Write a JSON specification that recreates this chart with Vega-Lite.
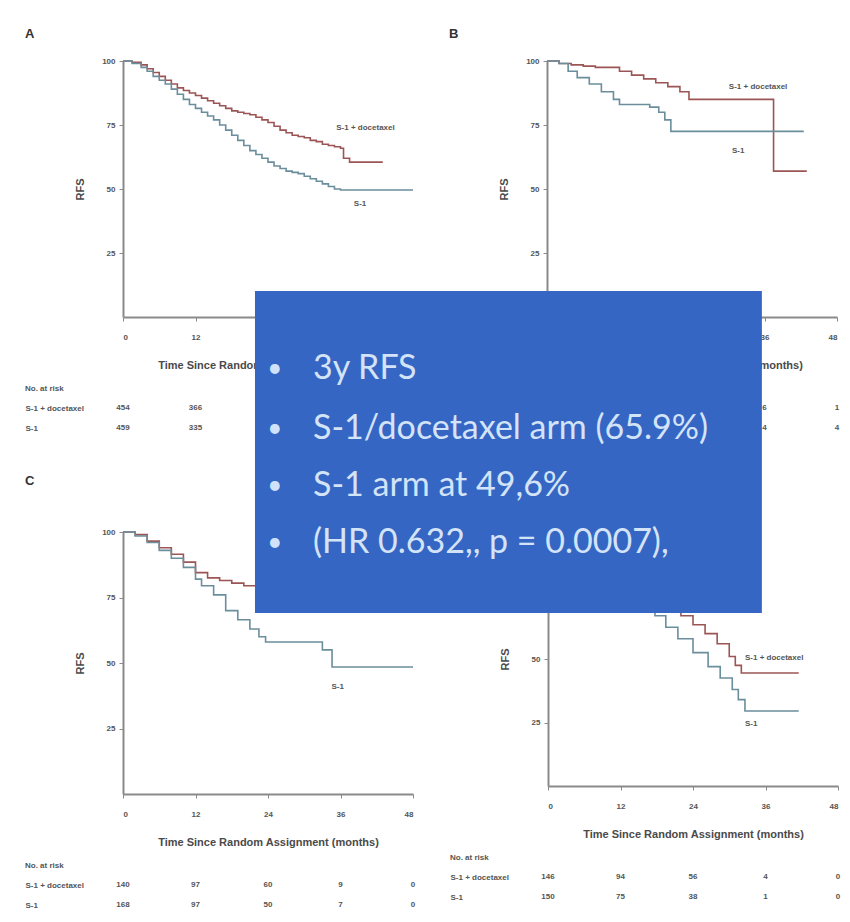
{
  "$schema": "https://vega.github.io/schema/vega-lite/v6.json",
  "padding": {"left": 25, "top": 28, "right": 5, "bottom": 5},
  "background": "white",
  "config": {
    "view": {"stroke": null},
    "font": "Liberation Sans",
    "axis": {
      "grid": false,
      "labelFont": "Liberation Sans",
      "labelFontSize": 8,
      "labelFontWeight": "bold",
      "labelColor": "#555555",
      "titleFont": "Liberation Sans",
      "titleFontSize": 11,
      "titleFontWeight": "bold",
      "titleColor": "#4a4a4a",
      "domainColor": "#8a8a8a",
      "domainWidth": 2,
      "tickColor": "#8a8a8a"
    }
  },
  "datasets": {
    "curves": [
      {"panel": "A", "arm": "S-1 + docetaxel", "month": 0, "rfs": 100},
      {"panel": "A", "arm": "S-1 + docetaxel", "month": 1.5, "rfs": 99.5},
      {"panel": "A", "arm": "S-1 + docetaxel", "month": 3, "rfs": 98.5},
      {"panel": "A", "arm": "S-1 + docetaxel", "month": 4, "rfs": 97},
      {"panel": "A", "arm": "S-1 + docetaxel", "month": 5, "rfs": 95.5},
      {"panel": "A", "arm": "S-1 + docetaxel", "month": 6, "rfs": 94},
      {"panel": "A", "arm": "S-1 + docetaxel", "month": 7, "rfs": 92.5},
      {"panel": "A", "arm": "S-1 + docetaxel", "month": 8, "rfs": 91},
      {"panel": "A", "arm": "S-1 + docetaxel", "month": 9, "rfs": 89.5},
      {"panel": "A", "arm": "S-1 + docetaxel", "month": 10, "rfs": 88.5},
      {"panel": "A", "arm": "S-1 + docetaxel", "month": 11, "rfs": 87.5},
      {"panel": "A", "arm": "S-1 + docetaxel", "month": 12, "rfs": 86.5},
      {"panel": "A", "arm": "S-1 + docetaxel", "month": 13, "rfs": 85.5},
      {"panel": "A", "arm": "S-1 + docetaxel", "month": 14, "rfs": 84.5},
      {"panel": "A", "arm": "S-1 + docetaxel", "month": 15, "rfs": 83.5},
      {"panel": "A", "arm": "S-1 + docetaxel", "month": 16, "rfs": 82.5},
      {"panel": "A", "arm": "S-1 + docetaxel", "month": 17, "rfs": 81.5},
      {"panel": "A", "arm": "S-1 + docetaxel", "month": 18, "rfs": 80.5},
      {"panel": "A", "arm": "S-1 + docetaxel", "month": 19, "rfs": 80},
      {"panel": "A", "arm": "S-1 + docetaxel", "month": 20, "rfs": 79.5},
      {"panel": "A", "arm": "S-1 + docetaxel", "month": 21, "rfs": 79},
      {"panel": "A", "arm": "S-1 + docetaxel", "month": 22, "rfs": 78},
      {"panel": "A", "arm": "S-1 + docetaxel", "month": 23, "rfs": 77},
      {"panel": "A", "arm": "S-1 + docetaxel", "month": 24, "rfs": 76},
      {"panel": "A", "arm": "S-1 + docetaxel", "month": 25, "rfs": 74.5},
      {"panel": "A", "arm": "S-1 + docetaxel", "month": 26, "rfs": 73},
      {"panel": "A", "arm": "S-1 + docetaxel", "month": 27, "rfs": 72},
      {"panel": "A", "arm": "S-1 + docetaxel", "month": 28, "rfs": 71},
      {"panel": "A", "arm": "S-1 + docetaxel", "month": 29, "rfs": 70.5},
      {"panel": "A", "arm": "S-1 + docetaxel", "month": 30, "rfs": 70},
      {"panel": "A", "arm": "S-1 + docetaxel", "month": 31, "rfs": 69},
      {"panel": "A", "arm": "S-1 + docetaxel", "month": 32, "rfs": 68.5},
      {"panel": "A", "arm": "S-1 + docetaxel", "month": 33, "rfs": 67.5},
      {"panel": "A", "arm": "S-1 + docetaxel", "month": 34, "rfs": 67},
      {"panel": "A", "arm": "S-1 + docetaxel", "month": 35, "rfs": 66.5},
      {"panel": "A", "arm": "S-1 + docetaxel", "month": 36, "rfs": 65.9},
      {"panel": "A", "arm": "S-1 + docetaxel", "month": 36.5, "rfs": 62},
      {"panel": "A", "arm": "S-1 + docetaxel", "month": 37.5, "rfs": 60.5},
      {"panel": "A", "arm": "S-1 + docetaxel", "month": 43, "rfs": 60.5},
      {"panel": "A", "arm": "S-1", "month": 0, "rfs": 100},
      {"panel": "A", "arm": "S-1", "month": 1.5, "rfs": 99},
      {"panel": "A", "arm": "S-1", "month": 3, "rfs": 97.5},
      {"panel": "A", "arm": "S-1", "month": 4, "rfs": 96},
      {"panel": "A", "arm": "S-1", "month": 5, "rfs": 94},
      {"panel": "A", "arm": "S-1", "month": 6, "rfs": 92.5},
      {"panel": "A", "arm": "S-1", "month": 7, "rfs": 91},
      {"panel": "A", "arm": "S-1", "month": 8, "rfs": 89},
      {"panel": "A", "arm": "S-1", "month": 9, "rfs": 87},
      {"panel": "A", "arm": "S-1", "month": 10, "rfs": 85},
      {"panel": "A", "arm": "S-1", "month": 11, "rfs": 83},
      {"panel": "A", "arm": "S-1", "month": 12, "rfs": 81.5},
      {"panel": "A", "arm": "S-1", "month": 13, "rfs": 80},
      {"panel": "A", "arm": "S-1", "month": 14, "rfs": 78.5},
      {"panel": "A", "arm": "S-1", "month": 15, "rfs": 77},
      {"panel": "A", "arm": "S-1", "month": 16, "rfs": 75},
      {"panel": "A", "arm": "S-1", "month": 17, "rfs": 73},
      {"panel": "A", "arm": "S-1", "month": 18, "rfs": 71},
      {"panel": "A", "arm": "S-1", "month": 19, "rfs": 69},
      {"panel": "A", "arm": "S-1", "month": 20, "rfs": 67},
      {"panel": "A", "arm": "S-1", "month": 21, "rfs": 65},
      {"panel": "A", "arm": "S-1", "month": 22, "rfs": 63.5},
      {"panel": "A", "arm": "S-1", "month": 23, "rfs": 62},
      {"panel": "A", "arm": "S-1", "month": 24, "rfs": 60.5},
      {"panel": "A", "arm": "S-1", "month": 25, "rfs": 59},
      {"panel": "A", "arm": "S-1", "month": 26, "rfs": 58},
      {"panel": "A", "arm": "S-1", "month": 27, "rfs": 57},
      {"panel": "A", "arm": "S-1", "month": 28, "rfs": 56.5},
      {"panel": "A", "arm": "S-1", "month": 29, "rfs": 56},
      {"panel": "A", "arm": "S-1", "month": 30, "rfs": 55},
      {"panel": "A", "arm": "S-1", "month": 31, "rfs": 54},
      {"panel": "A", "arm": "S-1", "month": 32, "rfs": 53},
      {"panel": "A", "arm": "S-1", "month": 33, "rfs": 52},
      {"panel": "A", "arm": "S-1", "month": 34, "rfs": 51},
      {"panel": "A", "arm": "S-1", "month": 35, "rfs": 50},
      {"panel": "A", "arm": "S-1", "month": 36, "rfs": 49.6},
      {"panel": "A", "arm": "S-1", "month": 48, "rfs": 49.6},
      {"panel": "B", "arm": "S-1 + docetaxel", "month": 0, "rfs": 100},
      {"panel": "B", "arm": "S-1 + docetaxel", "month": 2, "rfs": 99},
      {"panel": "B", "arm": "S-1 + docetaxel", "month": 4, "rfs": 98.5},
      {"panel": "B", "arm": "S-1 + docetaxel", "month": 6, "rfs": 98},
      {"panel": "B", "arm": "S-1 + docetaxel", "month": 8, "rfs": 97.5},
      {"panel": "B", "arm": "S-1 + docetaxel", "month": 10, "rfs": 97.5},
      {"panel": "B", "arm": "S-1 + docetaxel", "month": 12, "rfs": 96},
      {"panel": "B", "arm": "S-1 + docetaxel", "month": 14, "rfs": 94.5},
      {"panel": "B", "arm": "S-1 + docetaxel", "month": 16, "rfs": 93},
      {"panel": "B", "arm": "S-1 + docetaxel", "month": 18, "rfs": 91.5},
      {"panel": "B", "arm": "S-1 + docetaxel", "month": 20, "rfs": 90},
      {"panel": "B", "arm": "S-1 + docetaxel", "month": 22, "rfs": 88},
      {"panel": "B", "arm": "S-1 + docetaxel", "month": 23.5, "rfs": 85},
      {"panel": "B", "arm": "S-1 + docetaxel", "month": 37.5, "rfs": 57},
      {"panel": "B", "arm": "S-1 + docetaxel", "month": 43, "rfs": 57},
      {"panel": "B", "arm": "S-1", "month": 0, "rfs": 100},
      {"panel": "B", "arm": "S-1", "month": 2, "rfs": 99},
      {"panel": "B", "arm": "S-1", "month": 3.5, "rfs": 96},
      {"panel": "B", "arm": "S-1", "month": 5, "rfs": 93.5},
      {"panel": "B", "arm": "S-1", "month": 7, "rfs": 91},
      {"panel": "B", "arm": "S-1", "month": 9, "rfs": 88},
      {"panel": "B", "arm": "S-1", "month": 11, "rfs": 85},
      {"panel": "B", "arm": "S-1", "month": 12, "rfs": 83},
      {"panel": "B", "arm": "S-1", "month": 17, "rfs": 82},
      {"panel": "B", "arm": "S-1", "month": 18.5, "rfs": 80},
      {"panel": "B", "arm": "S-1", "month": 19.5, "rfs": 77},
      {"panel": "B", "arm": "S-1", "month": 20.5, "rfs": 72.5},
      {"panel": "B", "arm": "S-1", "month": 42.5, "rfs": 72.5},
      {"panel": "C", "arm": "S-1 + docetaxel", "month": 0, "rfs": 100},
      {"panel": "C", "arm": "S-1 + docetaxel", "month": 2, "rfs": 99},
      {"panel": "C", "arm": "S-1 + docetaxel", "month": 4, "rfs": 96.5},
      {"panel": "C", "arm": "S-1 + docetaxel", "month": 6, "rfs": 94},
      {"panel": "C", "arm": "S-1 + docetaxel", "month": 8, "rfs": 91.5},
      {"panel": "C", "arm": "S-1 + docetaxel", "month": 10, "rfs": 88.5},
      {"panel": "C", "arm": "S-1 + docetaxel", "month": 12, "rfs": 84.5},
      {"panel": "C", "arm": "S-1 + docetaxel", "month": 14, "rfs": 82.5},
      {"panel": "C", "arm": "S-1 + docetaxel", "month": 16, "rfs": 81.5},
      {"panel": "C", "arm": "S-1 + docetaxel", "month": 18, "rfs": 80.5},
      {"panel": "C", "arm": "S-1 + docetaxel", "month": 20, "rfs": 79.5},
      {"panel": "C", "arm": "S-1 + docetaxel", "month": 22, "rfs": 78.5},
      {"panel": "C", "arm": "S-1 + docetaxel", "month": 26, "rfs": 76.5},
      {"panel": "C", "arm": "S-1 + docetaxel", "month": 30, "rfs": 74},
      {"panel": "C", "arm": "S-1 + docetaxel", "month": 34, "rfs": 72},
      {"panel": "C", "arm": "S-1 + docetaxel", "month": 36, "rfs": 71.3},
      {"panel": "C", "arm": "S-1 + docetaxel", "month": 44, "rfs": 71.3},
      {"panel": "C", "arm": "S-1", "month": 0, "rfs": 100},
      {"panel": "C", "arm": "S-1", "month": 2, "rfs": 98.5},
      {"panel": "C", "arm": "S-1", "month": 4, "rfs": 96},
      {"panel": "C", "arm": "S-1", "month": 6, "rfs": 93},
      {"panel": "C", "arm": "S-1", "month": 8, "rfs": 90},
      {"panel": "C", "arm": "S-1", "month": 10, "rfs": 86.5},
      {"panel": "C", "arm": "S-1", "month": 12, "rfs": 82},
      {"panel": "C", "arm": "S-1", "month": 13, "rfs": 79.5},
      {"panel": "C", "arm": "S-1", "month": 15, "rfs": 76},
      {"panel": "C", "arm": "S-1", "month": 17, "rfs": 70},
      {"panel": "C", "arm": "S-1", "month": 19, "rfs": 66.5},
      {"panel": "C", "arm": "S-1", "month": 21, "rfs": 63},
      {"panel": "C", "arm": "S-1", "month": 22.5, "rfs": 60},
      {"panel": "C", "arm": "S-1", "month": 23.6, "rfs": 58},
      {"panel": "C", "arm": "S-1", "month": 33, "rfs": 55},
      {"panel": "C", "arm": "S-1", "month": 34.6, "rfs": 48.5},
      {"panel": "C", "arm": "S-1", "month": 48, "rfs": 48.5},
      {"panel": "D", "arm": "S-1 + docetaxel", "month": 0, "rfs": 100},
      {"panel": "D", "arm": "S-1 + docetaxel", "month": 4, "rfs": 96},
      {"panel": "D", "arm": "S-1 + docetaxel", "month": 8, "rfs": 90},
      {"panel": "D", "arm": "S-1 + docetaxel", "month": 12, "rfs": 84},
      {"panel": "D", "arm": "S-1 + docetaxel", "month": 16, "rfs": 77},
      {"panel": "D", "arm": "S-1 + docetaxel", "month": 20, "rfs": 70.5},
      {"panel": "D", "arm": "S-1 + docetaxel", "month": 22, "rfs": 67},
      {"panel": "D", "arm": "S-1 + docetaxel", "month": 24, "rfs": 63.5},
      {"panel": "D", "arm": "S-1 + docetaxel", "month": 26, "rfs": 60},
      {"panel": "D", "arm": "S-1 + docetaxel", "month": 28, "rfs": 56},
      {"panel": "D", "arm": "S-1 + docetaxel", "month": 30, "rfs": 51},
      {"panel": "D", "arm": "S-1 + docetaxel", "month": 31, "rfs": 47.5},
      {"panel": "D", "arm": "S-1 + docetaxel", "month": 32, "rfs": 44.5},
      {"panel": "D", "arm": "S-1 + docetaxel", "month": 41.5, "rfs": 44.5},
      {"panel": "D", "arm": "S-1", "month": 0, "rfs": 100},
      {"panel": "D", "arm": "S-1", "month": 4, "rfs": 95},
      {"panel": "D", "arm": "S-1", "month": 8, "rfs": 87},
      {"panel": "D", "arm": "S-1", "month": 12, "rfs": 79},
      {"panel": "D", "arm": "S-1", "month": 15, "rfs": 72.5},
      {"panel": "D", "arm": "S-1", "month": 17.7, "rfs": 67},
      {"panel": "D", "arm": "S-1", "month": 19.5, "rfs": 62.5},
      {"panel": "D", "arm": "S-1", "month": 21.5, "rfs": 58},
      {"panel": "D", "arm": "S-1", "month": 24, "rfs": 52.5},
      {"panel": "D", "arm": "S-1", "month": 26.5, "rfs": 47},
      {"panel": "D", "arm": "S-1", "month": 28.5, "rfs": 42.5},
      {"panel": "D", "arm": "S-1", "month": 30.5, "rfs": 38},
      {"panel": "D", "arm": "S-1", "month": 31.5, "rfs": 34},
      {"panel": "D", "arm": "S-1", "month": 32.6, "rfs": 29.5},
      {"panel": "D", "arm": "S-1", "month": 41.5, "rfs": 29.5}
    ],
    "curveLabels": [
      {"panel": "A", "text": "S-1 + docetaxel", "month": 35.3, "rfs": 74},
      {"panel": "A", "text": "S-1", "month": 38.2, "rfs": 44},
      {"panel": "B", "text": "S-1 + docetaxel", "month": 30.1, "rfs": 90},
      {"panel": "B", "text": "S-1", "month": 30.6, "rfs": 65},
      {"panel": "C", "text": "S-1", "month": 34.5, "rfs": 41},
      {"panel": "D", "text": "S-1 + docetaxel", "month": 32.6, "rfs": 50.5},
      {"panel": "D", "text": "S-1", "month": 32.6, "rfs": 24.5}
    ],
    "risk": [
      {"panel": "A", "arm": "S-1 + docetaxel", "month": 0, "n": "454"},
      {"panel": "A", "arm": "S-1 + docetaxel", "month": 12, "n": "366"},
      {"panel": "A", "arm": "S-1 + docetaxel", "month": 24, "n": "213"},
      {"panel": "A", "arm": "S-1 + docetaxel", "month": 36, "n": "88"},
      {"panel": "A", "arm": "S-1 + docetaxel", "month": 48, "n": "6"},
      {"panel": "A", "arm": "S-1", "month": 0, "n": "459"},
      {"panel": "A", "arm": "S-1", "month": 12, "n": "335"},
      {"panel": "A", "arm": "S-1", "month": 24, "n": "180"},
      {"panel": "A", "arm": "S-1", "month": 36, "n": "70"},
      {"panel": "A", "arm": "S-1", "month": 48, "n": "5"},
      {"panel": "B", "arm": "S-1 + docetaxel", "month": 0, "n": "91"},
      {"panel": "B", "arm": "S-1 + docetaxel", "month": 12, "n": "73"},
      {"panel": "B", "arm": "S-1 + docetaxel", "month": 24, "n": "44"},
      {"panel": "B", "arm": "S-1 + docetaxel", "month": 36, "n": "6"},
      {"panel": "B", "arm": "S-1 + docetaxel", "month": 48, "n": "1"},
      {"panel": "B", "arm": "S-1", "month": 0, "n": "90"},
      {"panel": "B", "arm": "S-1", "month": 12, "n": "69"},
      {"panel": "B", "arm": "S-1", "month": 24, "n": "40"},
      {"panel": "B", "arm": "S-1", "month": 36, "n": "4"},
      {"panel": "B", "arm": "S-1", "month": 48, "n": "4"},
      {"panel": "C", "arm": "S-1 + docetaxel", "month": 0, "n": "140"},
      {"panel": "C", "arm": "S-1 + docetaxel", "month": 12, "n": "97"},
      {"panel": "C", "arm": "S-1 + docetaxel", "month": 24, "n": "60"},
      {"panel": "C", "arm": "S-1 + docetaxel", "month": 36, "n": "9"},
      {"panel": "C", "arm": "S-1 + docetaxel", "month": 48, "n": "0"},
      {"panel": "C", "arm": "S-1", "month": 0, "n": "168"},
      {"panel": "C", "arm": "S-1", "month": 12, "n": "97"},
      {"panel": "C", "arm": "S-1", "month": 24, "n": "50"},
      {"panel": "C", "arm": "S-1", "month": 36, "n": "7"},
      {"panel": "C", "arm": "S-1", "month": 48, "n": "0"},
      {"panel": "D", "arm": "S-1 + docetaxel", "month": 0, "n": "146"},
      {"panel": "D", "arm": "S-1 + docetaxel", "month": 12, "n": "94"},
      {"panel": "D", "arm": "S-1 + docetaxel", "month": 24, "n": "56"},
      {"panel": "D", "arm": "S-1 + docetaxel", "month": 36, "n": "4"},
      {"panel": "D", "arm": "S-1 + docetaxel", "month": 48, "n": "0"},
      {"panel": "D", "arm": "S-1", "month": 0, "n": "150"},
      {"panel": "D", "arm": "S-1", "month": 12, "n": "75"},
      {"panel": "D", "arm": "S-1", "month": 24, "n": "38"},
      {"panel": "D", "arm": "S-1", "month": 36, "n": "1"},
      {"panel": "D", "arm": "S-1", "month": 48, "n": "0"}
    ],
    "box": [
      {"x0": -48.5, "x1": 35.4, "y0": 68.1, "y1": 194.9}
    ],
    "bullets": [
      {"line": "3y RFS", "tx": -38.9, "bx": -45.2, "ty": 164.2},
      {"line": "S-1/docetaxel arm (65.9%)", "tx": -38.9, "bx": -45.2, "ty": 140.6},
      {"line": "S-1 arm at 49,6%", "tx": -38.9, "bx": -45.2, "ty": 118.1},
      {"line": "(HR 0.632,, p = 0.0007),", "tx": -38.9, "bx": -45.2, "ty": 95.7}
    ]
  },
  "spacing": -148,
  "vconcat": [
    {
      "spacing": 32,
      "hconcat": [
        {
          "title": {"text": "A", "anchor": "start", "frame": "bounds", "fontSize": 13, "fontWeight": "bold", "color": "#333333", "offset": 16},
          "spacing": 15,
          "vconcat": [
            {
              "width": 290, "height": 256,
              "layer": [
                {
                  "data": {"name": "curves"},
                  "transform": [{"filter": "datum.panel === 'A'"}],
                  "mark": {"type": "line", "interpolate": "step-after", "strokeWidth": 1.6},
                  "encoding": {
                    "x": {"field": "month", "type": "quantitative", "scale": {"domain": [0, 48]}, "axis": {"values": [0, 12, 24, 36, 48], "tickSize": 4, "labelPadding": 12, "title": "Time Since Random Assignment (months)", "titlePadding": 18}},
                    "y": {"field": "rfs", "type": "quantitative", "scale": {"domain": [0, 100]}, "axis": {"values": [25, 50, 75, 100], "tickSize": 4, "labelPadding": 4, "title": "RFS", "titlePadding": 16}},
                    "color": {"field": "arm", "type": "nominal", "scale": {"domain": ["S-1 + docetaxel", "S-1"], "range": ["#9c5555", "#6b8e9c"]}, "legend": null}
                  }
                },
                {
                  "data": {"name": "curveLabels"},
                  "transform": [{"filter": "datum.panel === 'A'"}],
                  "mark": {"type": "text", "align": "left", "fontSize": 8, "fontWeight": "bold", "color": "#555555"},
                  "encoding": {
                    "x": {"field": "month", "type": "quantitative", "scale": {"domain": [0, 48]}},
                    "y": {"field": "rfs", "type": "quantitative", "scale": {"domain": [0, 100]}},
                    "text": {"field": "text"}
                  }
                }
              ]
            },
            {
              "width": 290, "height": 40,
              "title": {"text": "No. at risk", "anchor": "start", "frame": "bounds", "fontSize": 8, "fontWeight": "bold", "color": "#555555", "offset": 5},
              "data": {"name": "risk"},
              "transform": [{"filter": "datum.panel === 'A'"}],
              "mark": {"type": "text", "fontSize": 8, "fontWeight": "bold", "color": "#555555"},
              "encoding": {
                "x": {"field": "month", "type": "quantitative", "scale": {"domain": [0, 48]}, "axis": null},
                "y": {"field": "arm", "type": "nominal", "sort": ["S-1 + docetaxel", "S-1"], "axis": {"title": null, "domain": false, "ticks": false, "tickSize": 0, "labelAlign": "left", "labelPadding": 98, "labelFontSize": 8}},
                "text": {"field": "n"}
              }
            }
          ]
        },
        {
          "title": {"text": "B", "anchor": "start", "frame": "bounds", "fontSize": 13, "fontWeight": "bold", "color": "#333333", "offset": 16},
          "spacing": 15,
          "vconcat": [
            {
              "width": 290, "height": 256,
              "layer": [
                {
                  "data": {"name": "curves"},
                  "transform": [{"filter": "datum.panel === 'B'"}],
                  "mark": {"type": "line", "interpolate": "step-after", "strokeWidth": 1.6},
                  "encoding": {
                    "x": {"field": "month", "type": "quantitative", "scale": {"domain": [0, 48]}, "axis": {"values": [0, 12, 24, 36, 48], "tickSize": 4, "labelPadding": 12, "title": "Time Since Random Assignment (months)", "titlePadding": 18}},
                    "y": {"field": "rfs", "type": "quantitative", "scale": {"domain": [0, 100]}, "axis": {"values": [25, 50, 75, 100], "tickSize": 4, "labelPadding": 4, "title": "RFS", "titlePadding": 16}},
                    "color": {"field": "arm", "type": "nominal", "scale": {"domain": ["S-1 + docetaxel", "S-1"], "range": ["#9c5555", "#6b8e9c"]}, "legend": null}
                  }
                },
                {
                  "data": {"name": "curveLabels"},
                  "transform": [{"filter": "datum.panel === 'B'"}],
                  "mark": {"type": "text", "align": "left", "fontSize": 8, "fontWeight": "bold", "color": "#555555"},
                  "encoding": {
                    "x": {"field": "month", "type": "quantitative", "scale": {"domain": [0, 48]}},
                    "y": {"field": "rfs", "type": "quantitative", "scale": {"domain": [0, 100]}},
                    "text": {"field": "text"}
                  }
                }
              ]
            },
            {
              "width": 290, "height": 40,
              "title": {"text": "No. at risk", "anchor": "start", "frame": "bounds", "fontSize": 8, "fontWeight": "bold", "color": "#555555", "offset": 5},
              "data": {"name": "risk"},
              "transform": [{"filter": "datum.panel === 'B'"}],
              "mark": {"type": "text", "fontSize": 8, "fontWeight": "bold", "color": "#555555"},
              "encoding": {
                "x": {"field": "month", "type": "quantitative", "scale": {"domain": [0, 48]}, "axis": null},
                "y": {"field": "arm", "type": "nominal", "sort": ["S-1 + docetaxel", "S-1"], "axis": {"title": null, "domain": false, "ticks": false, "tickSize": 0, "labelAlign": "left", "labelPadding": 98, "labelFontSize": 8}},
                "text": {"field": "n"}
              }
            }
          ]
        }
      ]
    },
    {
      "spacing": -163,
      "hconcat": [
        {
          "title": {"text": "C", "anchor": "start", "frame": "bounds", "fontSize": 13, "fontWeight": "bold", "color": "#333333", "offset": 40},
          "spacing": 15,
          "vconcat": [
            {
              "width": 290, "height": 262,
              "layer": [
                {
                  "data": {"name": "curves"},
                  "transform": [{"filter": "datum.panel === 'C'"}],
                  "mark": {"type": "line", "interpolate": "step-after", "strokeWidth": 1.6},
                  "encoding": {
                    "x": {"field": "month", "type": "quantitative", "scale": {"domain": [0, 48]}, "axis": {"values": [0, 12, 24, 36, 48], "tickSize": 4, "labelPadding": 12, "title": "Time Since Random Assignment (months)", "titlePadding": 18}},
                    "y": {"field": "rfs", "type": "quantitative", "scale": {"domain": [0, 100]}, "axis": {"values": [25, 50, 75, 100], "tickSize": 4, "labelPadding": 4, "title": "RFS", "titlePadding": 16}},
                    "color": {"field": "arm", "type": "nominal", "scale": {"domain": ["S-1 + docetaxel", "S-1"], "range": ["#9c5555", "#6b8e9c"]}, "legend": null}
                  }
                },
                {
                  "data": {"name": "curveLabels"},
                  "transform": [{"filter": "datum.panel === 'C'"}],
                  "mark": {"type": "text", "align": "left", "fontSize": 8, "fontWeight": "bold", "color": "#555555"},
                  "encoding": {
                    "x": {"field": "month", "type": "quantitative", "scale": {"domain": [0, 48]}},
                    "y": {"field": "rfs", "type": "quantitative", "scale": {"domain": [0, 100]}},
                    "text": {"field": "text"}
                  }
                }
              ]
            },
            {
              "width": 290, "height": 40,
              "title": {"text": "No. at risk", "anchor": "start", "frame": "bounds", "fontSize": 8, "fontWeight": "bold", "color": "#555555", "offset": 5},
              "data": {"name": "risk"},
              "transform": [{"filter": "datum.panel === 'C'"}],
              "mark": {"type": "text", "fontSize": 8, "fontWeight": "bold", "color": "#555555"},
              "encoding": {
                "x": {"field": "month", "type": "quantitative", "scale": {"domain": [0, 48]}, "axis": null},
                "y": {"field": "arm", "type": "nominal", "sort": ["S-1 + docetaxel", "S-1"], "axis": {"title": null, "domain": false, "ticks": false, "tickSize": 0, "labelAlign": "left", "labelPadding": 98, "labelFontSize": 8}},
                "text": {"field": "n"}
              }
            }
          ]
        },
        {
          "spacing": 15,
          "vconcat": [
            {
              "width": 290, "height": 254,
              "layer": [
                {
                  "data": {"name": "curves"},
                  "transform": [{"filter": "datum.panel === 'D'"}],
                  "mark": {"type": "line", "interpolate": "step-after", "strokeWidth": 1.6},
                  "encoding": {
                    "x": {"field": "month", "type": "quantitative", "scale": {"domain": [0, 48]}, "axis": {"values": [0, 12, 24, 36, 48], "tickSize": 4, "labelPadding": 12, "title": "Time Since Random Assignment (months)", "titlePadding": 18}},
                    "y": {"field": "rfs", "type": "quantitative", "scale": {"domain": [0, 100]}, "axis": {"values": [25, 50, 75, 100], "tickSize": 4, "labelPadding": 4, "title": "RFS", "titlePadding": 16}},
                    "color": {"field": "arm", "type": "nominal", "scale": {"domain": ["S-1 + docetaxel", "S-1"], "range": ["#9c5555", "#6b8e9c"]}, "legend": null}
                  }
                },
                {
                  "data": {"name": "curveLabels"},
                  "transform": [{"filter": "datum.panel === 'D'"}],
                  "mark": {"type": "text", "align": "left", "fontSize": 8, "fontWeight": "bold", "color": "#555555"},
                  "encoding": {
                    "x": {"field": "month", "type": "quantitative", "scale": {"domain": [0, 48]}},
                    "y": {"field": "rfs", "type": "quantitative", "scale": {"domain": [0, 100]}},
                    "text": {"field": "text"}
                  }
                },
                {
                  "data": {"name": "box"},
                  "mark": {"type": "rect", "color": "#3666c3"},
                  "encoding": {
                    "x": {"field": "x0", "type": "quantitative", "scale": {"domain": [0, 48]}},
                    "x2": {"field": "x1"},
                    "y": {"field": "y0", "type": "quantitative", "scale": {"domain": [0, 100]}},
                    "y2": {"field": "y1"}
                  }
                },
                {
                  "data": {"name": "bullets"},
                  "mark": {"type": "text", "align": "left", "baseline": "middle", "font": "Lato", "fontSize": 34, "color": "#d3e3f8"},
                  "encoding": {
                    "x": {"field": "tx", "type": "quantitative", "scale": {"domain": [0, 48]}},
                    "y": {"field": "ty", "type": "quantitative", "scale": {"domain": [0, 100]}},
                    "text": {"field": "line"}
                  }
                },
                {
                  "data": {"name": "bullets"},
                  "mark": {"type": "text", "align": "center", "baseline": "middle", "font": "Lato", "fontSize": 26, "color": "#cfe2fa"},
                  "encoding": {
                    "x": {"field": "bx", "type": "quantitative", "scale": {"domain": [0, 48]}},
                    "y": {"field": "ty", "type": "quantitative", "scale": {"domain": [0, 100]}},
                    "text": {"value": "•"}
                  }
                }
              ]
            },
            {
              "width": 290, "height": 40,
              "title": {"text": "No. at risk", "anchor": "start", "frame": "bounds", "fontSize": 8, "fontWeight": "bold", "color": "#555555", "offset": 5},
              "data": {"name": "risk"},
              "transform": [{"filter": "datum.panel === 'D'"}],
              "mark": {"type": "text", "fontSize": 8, "fontWeight": "bold", "color": "#555555"},
              "encoding": {
                "x": {"field": "month", "type": "quantitative", "scale": {"domain": [0, 48]}, "axis": null},
                "y": {"field": "arm", "type": "nominal", "sort": ["S-1 + docetaxel", "S-1"], "axis": {"title": null, "domain": false, "ticks": false, "tickSize": 0, "labelAlign": "left", "labelPadding": 98, "labelFontSize": 8}},
                "text": {"field": "n"}
              }
            }
          ]
        }
      ]
    }
  ]
}
